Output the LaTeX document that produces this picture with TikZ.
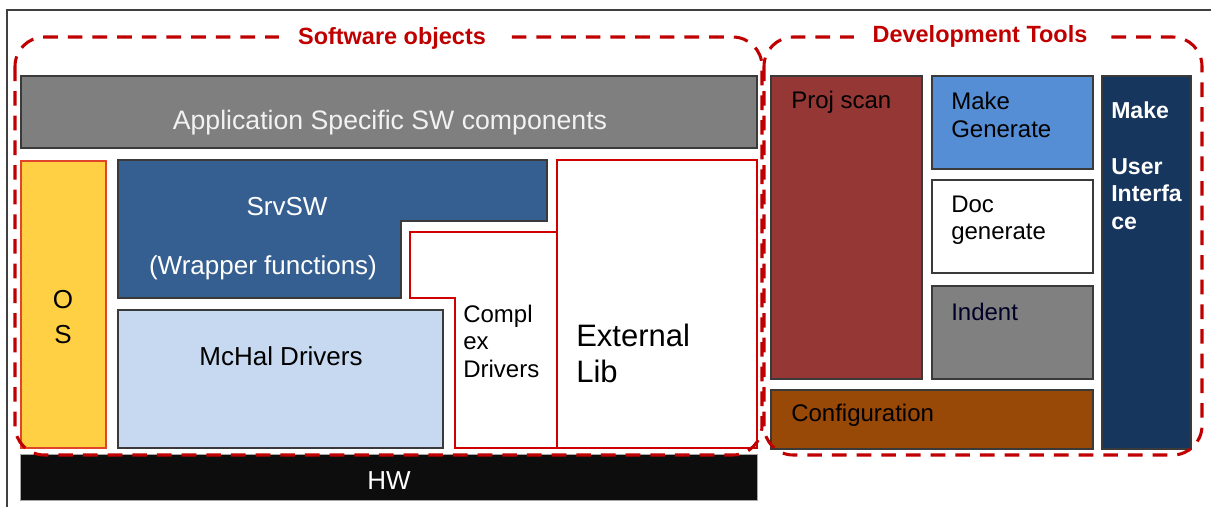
\documentclass[tikz,border=0pt]{standalone}
\usepackage{fontspec}
\setmainfont{Liberation Sans}
\usetikzlibrary{fit}

\definecolor{framegray}{HTML}{404040}
\definecolor{boxline}{HTML}{3A3A3A}
\definecolor{appgray}{HTML}{7F7F7F}
\definecolor{osyellow}{HTML}{FFD044}
\definecolor{osline}{HTML}{E0452A}
\definecolor{srvblue}{HTML}{365F91}
\definecolor{mchalblue}{HTML}{C6D9F0}
\definecolor{hwblack}{HTML}{0D0D0D}
\definecolor{projred}{HTML}{953735}
\definecolor{makeblue}{HTML}{558ED5}
\definecolor{indentgray}{HTML}{808080}
\definecolor{configbrown}{HTML}{984807}
\definecolor{uiblue}{HTML}{17365D}
\definecolor{dashred}{HTML}{C00000}
\definecolor{outlinered}{HTML}{D00000}

\begin{document}
\begin{tikzpicture}[x=0.75pt,y=-0.75pt,
  box/.style={draw=boxline, line width=1.1pt, inner sep=0pt},
  redbox/.style={draw=outlinered, line width=0.9pt, fill=white, inner sep=0pt},
  txt/.style={inner sep=0pt, font=\fontsize{19.5}{23}\selectfont},
  smalltxt/.style={inner sep=0pt, align=left, anchor=west, font=\fontsize{18}{20.6}\selectfont},
  grouptitle/.style={fill=white, text=dashred, inner xsep=14pt, inner ysep=2pt,
    font=\fontsize{17.6}{20}\selectfont\bfseries},
  groupframe/.style={draw=dashred, line width=2.3pt, dash pattern=on 11pt off 7.5pt,
    rounded corners=22pt}]

\useasboundingbox (0,0) rectangle (1211,507);
\fill[white] (0,0) rectangle (1211,507);

% outer frame
\coordinate (frameTR) at (1211,10);
\coordinate (frameTL) at (7,10);
\coordinate (frameBL) at (7,507);
\draw[framegray, line width=1.1pt] (frameTR) -- (frameTL) -- (frameBL);

% ---------- software stack ----------
\node[box, fill=appgray, fit={(21,76)(757,148)}] (app) {};
\node[txt, text=white!95!black, font=\fontsize{20}{23}\selectfont] (apptxt) at (390,123) {Application Specific SW components};

\node[box, draw=osline, fill=osyellow, fit={(21,161)(106,448)}] (os) {};
\node[txt, align=center, font=\fontsize{19.5}{26}\selectfont] (ostxt) at (63,317) {O\\S};

% SrvSW, L-shaped
\coordinate (s1) at (118,160);
\coordinate (s2) at (547,160);
\coordinate (s3) at (547,221);
\coordinate (s4) at (401,221);
\coordinate (s5) at (401,298);
\coordinate (s6) at (118,298);
\draw[box, fill=srvblue] (s1) -- (s2) -- (s3) -- (s4) -- (s5) -- (s6) -- cycle;
\node[txt, text=white] (srvsw) at (287,207) {SrvSW};
\node[txt, text=white] (wrapper) at (263,268) {(Wrapper functions)};

% Complex drivers, stepped outline
\coordinate (c1) at (410,232);
\coordinate (c2) at (557,232);
\coordinate (c3) at (557,448);
\coordinate (c4) at (455,448);
\coordinate (c5) at (455,298);
\coordinate (c6) at (410,298);
\draw[redbox] (c1) -- (c2) -- (c3) -- (c4) -- (c5) -- (c6) -- cycle;
\node[smalltxt] (complex) at (463,341) {Compl\\ex\\Drivers};

\node[redbox, fit={(557,160)(757,448)}] (extlib) {};
\node[txt, align=left, anchor=west, font=\fontsize{23.25}{27}\selectfont] (exttxt) at (576,353) {External\\Lib};

\node[box, fill=mchalblue, fit={(118,310)(443,448)}] (mchal) {};
\node[txt] (mchaltxt) at (281,356) {McHal Drivers};

\node[box, draw=gray!70, line width=0.6pt, fill=hwblack, fit={(20,454)(757,500)}] (hw) {};
\node[txt, text=white] (hwtxt) at (389,481) {HW};

% ---------- development tools ----------
\node[box, fill=projred, fit={(771,76)(922,379)}] (proj) {};
\node[smalltxt] (projtxt) at (791,102) {Proj scan};

\node[box, fill=makeblue, fit={(932,76)(1093,169)}] (make) {};
\node[smalltxt] (maketxt) at (951,115) {Make\\Generate};

\node[box, fill=white, fit={(932,180)(1093,273)}] (doc) {};
\node[smalltxt] (doctxt) at (951,220) {Doc\\generate};

\node[box, fill=indentgray, fit={(932,286)(1093,379)}] (indent) {};
\node[smalltxt, text=black!85!blue] (indenttxt) at (951,312) {Indent};

\node[box, fill=configbrown, fit={(771,390)(1093,449)}] (config) {};
\node[smalltxt] (configtxt) at (791,415) {Configuration};

\node[box, fill=uiblue, fit={(1102,76)(1191,449)}] (ui) {};
\node[smalltxt, text=white, font=\fontsize{17.3}{20.8}\selectfont\bfseries] (uitxt) at (1111,166)
  {Make\\[20.8pt]User\\Interfa\\ce};

% ---------- dashed groups ----------
\draw[groupframe] (15,37) rectangle (762,455);
\draw[groupframe] (764,37) rectangle (1202,455);
\node[grouptitle] (swtitle) at (392,38) {Software objects};
\node[grouptitle] (devtitle) at (980,36) {Development Tools};

\end{tikzpicture}
\end{document}
